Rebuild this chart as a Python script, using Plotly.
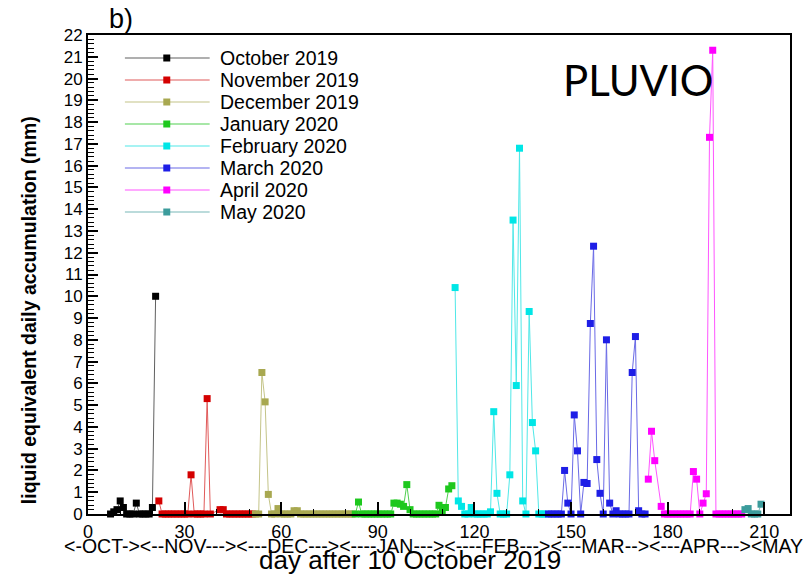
import plotly.graph_objects as go

# ---- data (day after 10 October 2019, daily liquid-equivalent accumulation in mm) ----
months = ["October 2019", "November 2019", "December 2019", "January 2020",
          "February 2020", "March 2020", "April 2020", "May 2020"]
start_days = [7, 22, 52, 83, 114, 143, 174, 204]

oct_vals = [0, 0.1, 0.2, 0.6, 0.3, 0, 0, 0, 0.5, 0, 0, 0, 0, 0.3, 10.0]
nov_vals = [0.6, 0, 0, 0, 0, 0, 0, 0, 0, 0, 1.8, 0, 0, 0, 0, 5.3, 0, None, None,
            0.2, 0.2, 0, 0, 0, 0, 0, 0, 0, 0, 0]
dec_vals = [0, 0, 6.5, 5.15, 0.9, 0, 0, 0.25, 0, 0, 0, 0, 0.15, 0.15,
            0, 0, 0, 0, 0, 0, 0, 0, 0, 0, 0, 0, 0, 0, 0, 0, 0]
jan_vals = [0, 0.55, 0, 0, 0, 0, 0, 0, 0, 0, 0, 0, 0.5, 0.5, 0.45, 0.35, 1.35, 0.2,
            0, 0, 0, 0, 0, 0, 0, 0, 0.4, 0.15, 0.3, 1.15, 1.3]
feb_vals = [10.4, 0.6, 0.35, 0, 0, 0.3, 0, 0, 0, 0, 0, 0.1, 4.7, 0.95, 0, 0, 0, 1.8,
            13.5, 5.9, 16.8, 0.6, 0, 9.3, 4.2, 2.9, 0, 0, 0]
mar_vals = [0, 0, 0, 0, 0, 2.0, 0.5, 0, 4.55, 2.9, 0, 1.45, 1.4, 8.75, 12.3, 2.5, 0.95,
            0, 8.0, 0.5, 0, 0.15, 0, 0, 0, 0, 6.5, 8.15, 0.15, 0, 0]
apr_vals = [1.6, 3.8, 2.45, None, 0.35, 0, 0, 0, 0, 0, 0, 0, 0, 0, 1.95, 1.6, 0, 0.5,
            0.93, 17.3, 21.3, 0, 0, 0, 0, 0, 0, 0, 0, 0]
may_vals = [0.2, 0.25, 0, 0, 0, 0.45]

series_vals = [oct_vals, nov_vals, dec_vals, jan_vals, feb_vals, mar_vals, apr_vals, may_vals]

x_tick_vals = [0, 30, 60, 90, 120, 150, 180, 210]
month_strip = "<-OCT-><--NOV---><---DEC---><----JAN---><----FEB---><---MAR--><---APR---><MAY"

marker_colors = ["#000000", "#d40000", "#a8a850", "#1ec81e", "#00e6e6", "#1e1ee6", "#ff00ff", "#3c9c9c"]
line_colors = ["#606060", "#e05a5a", "#c4c488", "#50d050", "#50e8e8", "#6a6ae6", "#ff55ff", "#78b8b8"]

FONT = "Arial, 'Liberation Sans', sans-serif"

fig = go.Figure()
for name, start, vals, mc, lc in zip(months, start_days, series_vals, marker_colors, line_colors):
    days = list(range(start, start + len(vals)))
    fig.add_trace(go.Scatter(
        x=days, y=vals, name=name, mode="lines+markers",
        connectgaps=True, cliponaxis=False, showlegend=False,
        line=dict(color=lc, width=1),
        marker=dict(symbol="square", size=7, color=mc),
    ))

L, R, T, B = 88, 12, 35, 63
W, H = 804, 577
pw, ph = W - L - R, H - T - B

def px(x):
    return (x - L) / pw

def py(y):
    return (H - B - y) / ph

# ---- hand-drawn legend (line + square marker + label) ----
shapes = []
annotations = []
leg_top, leg_step = 58, 22
for i, (name, mc, lc) in enumerate(zip(months, marker_colors, line_colors)):
    yy = leg_top + i * leg_step
    shapes.append(dict(type="line", xref="paper", yref="paper",
                       x0=px(125), x1=px(210), y0=py(yy), y1=py(yy),
                       line=dict(color=lc, width=1.2)))
    shapes.append(dict(type="rect", xref="paper", yref="paper",
                       x0=px(163.5), x1=px(170.5), y0=py(yy - 3.5), y1=py(yy + 3.5),
                       fillcolor=mc, line=dict(width=0)))
    annotations.append(dict(text=name, x=px(218), y=py(yy), xref="paper", yref="paper",
                            xanchor="left", yanchor="middle", showarrow=False,
                            font=dict(size=19.5, family=FONT)))

annotations += [
    dict(text="b)", x=px(121), y=py(19), xref="paper", yref="paper",
         xanchor="center", yanchor="middle",
         showarrow=False, font=dict(size=27, family=FONT)),
    dict(text="PLUVIO", x=px(640), y=py(80), xref="paper", yref="paper",
         xanchor="center", yanchor="middle",
         showarrow=False, font=dict(size=42, family="Lato, 'Open Sans', sans-serif")),
    dict(text=month_strip, x=px(434), y=py(546), xref="paper", yref="paper",
         xanchor="center", yanchor="middle",
         showarrow=False, font=dict(size=19.5, family=FONT)),
    dict(text="day after 10 October 2019", x=px(411), y=py(577), xref="paper", yref="paper",
         xanchor="center", yanchor="bottom",
         showarrow=False, font=dict(size=26, family=FONT)),
    dict(text="<b>liquid equivalent daily accumulation (mm)</b>", x=px(29), y=py(310),
         xref="paper", yref="paper", textangle=-90,
         xanchor="center", yanchor="middle",
         showarrow=False, font=dict(size=19.5, family=FONT)),
]

fig.update_layout(
    width=W, height=H,
    margin=dict(l=L, r=R, t=T, b=B),
    plot_bgcolor="white", paper_bgcolor="white",
    font=dict(family=FONT, color="black"),
    showlegend=False,
    xaxis=dict(range=[0, 218], tickmode="array", tickvals=x_tick_vals,
               ticks="inside", ticklen=12, tickwidth=2, tickcolor="black",
               minor=dict(dtick=10, ticks="inside", ticklen=5, tickwidth=1.2, tickcolor="black"),
               showline=True, linecolor="black", linewidth=2, mirror=True,
               showgrid=False, zeroline=False, tickfont=dict(size=18, family=FONT)),
    yaxis=dict(range=[0, 22], dtick=1, tick0=0,
               ticks="inside", ticklen=10, tickwidth=2, tickcolor="black",
               minor=dict(dtick=0.2, ticks="inside", ticklen=6, tickwidth=1, tickcolor="black"),
               showline=True, linecolor="black", linewidth=2, mirror=True,
               showgrid=False, zeroline=False, tickfont=dict(size=17, family=FONT)),
    shapes=shapes,
    annotations=annotations,
)

fig.write_html("out.html")
